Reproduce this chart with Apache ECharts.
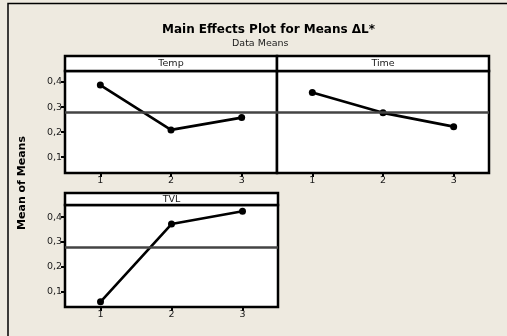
<!DOCTYPE html>
<html>
<head>
<meta charset="utf-8">
<script src="https://cdn.jsdelivr.net/npm/echarts@6/dist/echarts.min.js"></script>
<style>
  html, body { margin: 0; padding: 0; background: #EEEAE0; }
  #chart { width: 507px; height: 336px; }
</style>
</head>
<body>
<div id="chart"></div>
<script>
// Factor levels and the mean response at each level
const levels = ['1', '2', '3'];
const tempMeans = [0.388, 0.209, 0.258];
const timeMeans = [0.358, 0.277, 0.222];
const tvlMeans = [0.058, 0.372, 0.424];
const panelNames = ['Temp', 'Time', 'TVL'];
const yTickValues = [0.1, 0.2, 0.3, 0.4];

// Grand mean of all observations (reference line in each panel)
const grandMean = tempMeans.reduce((a, b) => a + b, 0) / tempMeans.length;

const FONT = 'DejaVu Sans';
const BORDER = 2.5;

// Panel layout: plot box plus a label strip above it
const panels = [
  { left: 65, top: 71, width: 212, height: 102, stripTop: 56, stripH: 15, yMin: 0.037, yMax: 0.444, showY: true },
  { left: 277, top: 71, width: 212, height: 102, stripTop: 56, stripH: 15, yMin: 0.037, yMax: 0.444, showY: false },
  { left: 65, top: 205, width: 213, height: 102, stripTop: 193, stripH: 12, yMin: 0.037, yMax: 0.449, showY: true }
];
const panelData = [tempMeans, timeMeans, tvlMeans];

const grids = panels.map(p => ({
  left: p.left, top: p.top, width: p.width, height: p.height,
  show: true, backgroundColor: '#fff', borderColor: '#000', borderWidth: BORDER,
  containLabel: false
}));

const xAxes = panels.map((p, i) => ({
  type: 'category', gridIndex: i, data: levels, boundaryGap: true,
  axisLine: { show: false },
  axisTick: { show: true, alignWithLabel: true, length: 4, lineStyle: { color: '#000', width: 2 } },
  axisLabel: { color: '#1a1a1a', fontFamily: FONT, fontSize: 9.5, margin: 3 },
  splitLine: { show: false }
}));

const yAxes = panels.map((p, i) => ({
  type: 'value', gridIndex: i, min: p.yMin, max: p.yMax,
  axisLine: { show: false },
  axisTick: { show: p.showY, length: 4, customValues: yTickValues, lineStyle: { color: '#000', width: 2 } },
  axisLabel: {
    show: p.showY, customValues: yTickValues, color: '#1a1a1a', fontFamily: FONT, fontSize: 9.5, margin: 3,
    formatter: v => v.toFixed(1).replace('.', ',')
  },
  splitLine: { show: false }
}));

const series = panelData.map((d, i) => ({
  type: 'line', xAxisIndex: i, yAxisIndex: i, data: d,
  symbol: 'circle', symbolSize: 7,
  itemStyle: { color: '#000' },
  lineStyle: { color: '#000', width: 2.6 },
  animation: false,
  markLine: {
    silent: true, symbol: 'none', animation: false,
    label: { show: false },
    lineStyle: { color: '#444', width: 2.5, type: 'solid' },
    data: [{ yAxis: grandMean }]
  }
}));

const graphics = [];
// Outer frame edges
graphics.push({
  type: 'polyline', silent: true,
  shape: { points: [[8, 336], [8, 3.5], [507, 3.5]] },
  style: { stroke: '#000', lineWidth: 1.5, fill: null }
});
// Label strips
panels.forEach((p, i) => {
  graphics.push({
    type: 'rect', silent: true, z: 10,
    shape: { x: p.left, y: p.stripTop, width: p.width, height: p.stripH },
    style: { fill: '#fff', stroke: '#000', lineWidth: BORDER }
  });
  graphics.push({
    type: 'text', silent: true, z: 11,
    x: p.left + p.width / 2, y: p.stripTop + p.stripH / 2 + 0.5,
    style: { text: panelNames[i], font: '9.5px "' + FONT + '"', fill: '#1a1a1a', align: 'center', verticalAlign: 'middle' }
  });
});
// Shared y-axis title
graphics.push({
  type: 'text', silent: true,
  x: 22, y: 183, rotation: Math.PI / 2,
  style: { text: 'Mean of Means', font: 'bold 11px "' + FONT + '"', fill: '#000', align: 'center', verticalAlign: 'middle' }
});

const chart = echarts.init(document.getElementById('chart'), null, { renderer: 'canvas' });
chart.setOption({
  backgroundColor: '#EEEAE0',
  animation: false,
  title: [
    { text: 'Main Effects Plot for Means ΔL*', left: 157, top: 19,
      textStyle: { fontFamily: FONT, fontSize: 12, fontWeight: 'bold', color: '#000' } },
    { text: 'Data Means', left: 227, top: 34,
      textStyle: { fontFamily: FONT, fontSize: 9.5, fontWeight: 'normal', color: '#1a1a1a' } }
  ],
  grid: grids,
  xAxis: xAxes,
  yAxis: yAxes,
  series: series,
  graphic: graphics
});
</script>
</body>
</html>
